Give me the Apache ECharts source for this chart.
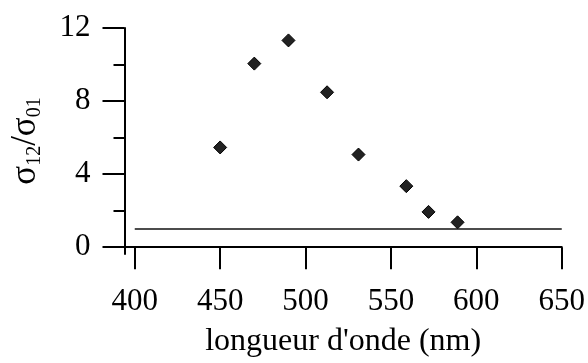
<!DOCTYPE html>
<html>
<head>
<meta charset="utf-8">
<script src="https://cdn.jsdelivr.net/npm/echarts@6/dist/echarts.min.js"></script>
<style>html,body{margin:0;padding:0;background:#fff}#c{width:588px;height:363px}</style>
</head>
<body>
<div id="c"></div>
<script>
var wavelengths = [450, 470, 490, 512.6, 531, 559, 572, 589];
var ratios = [5.46, 10.05, 11.32, 8.48, 5.07, 3.34, 1.93, 1.36];
var refLineX = [400, 650];
var refLineY = [1, 1];
var xTicks = [400, 450, 500, 550, 600, 650];
var yTicks = [0, 4, 8, 12];
var yMinorTicks = [2, 6, 10];

var FONT = 'Liberation Serif';
var chart = echarts.init(document.getElementById('c'), null, {renderer: 'canvas'});
var common = {
  min: -0.375, max: 12, position: 'left', splitLine: {show: false}
};
chart.setOption({
  backgroundColor: '#fff',
  animation: false,
  grid: {left: 122, right: 23, top: 28, bottom: 104},
  xAxis: {
    type: 'value', min: 394, max: 650,
    splitLine: {show: false},
    axisLine: {lineStyle: {color: '#000', width: 2}},
    axisTick: {customValues: xTicks, length: 22, lineStyle: {color: '#000', width: 2}},
    axisLabel: {customValues: xTicks, margin: 32, color: '#000', fontFamily: FONT, fontSize: 31},
    name: "longueur d'onde (nm)", nameLocation: 'middle', nameGap: 72,
    nameTextStyle: {color: '#000', fontFamily: FONT, fontSize: 32}
  },
  yAxis: [
    Object.assign({}, common, {
      type: 'value',
      axisLine: {show: true, lineStyle: {color: '#000', width: 2}},
      axisTick: {show: true, customValues: yTicks, length: 22, lineStyle: {color: '#000', width: 2}},
      axisLabel: {customValues: yTicks, margin: 34, color: '#000', fontFamily: FONT, fontSize: 31},
      name: '{s|σ}{b|12}{s|/σ}{b|01}', nameLocation: 'middle', nameGap: 80, nameRotate: 90,
      nameTextStyle: {
        color: '#000', fontFamily: FONT,
        rich: {
          s: {fontSize: 35, lineHeight: 38, fontFamily: FONT, color: '#000'},
          b: {fontSize: 20, lineHeight: 20, verticalAlign: 'bottom', fontFamily: FONT, color: '#000'}
        }
      }
    }),
    Object.assign({}, common, {
      type: 'value',
      axisLine: {show: false},
      axisTick: {show: true, customValues: yMinorTicks, length: 11, lineStyle: {color: '#000', width: 2}},
      axisLabel: {show: false}
    })
  ],
  series: [
    {
      type: 'line', data: refLineX.map(function (x, i) { return [x, refLineY[i]]; }),
      symbol: 'none', lineStyle: {color: '#111', width: 1.5}, silent: true
    },
    {
      type: 'scatter', data: wavelengths.map(function (x, i) { return [x, ratios[i]]; }),
      symbol: 'diamond', symbolSize: [13, 13],
      itemStyle: {color: '#222', borderColor: '#000', borderWidth: 1, opacity: 1}
    }
  ]
});
</script>
</body>
</html>
